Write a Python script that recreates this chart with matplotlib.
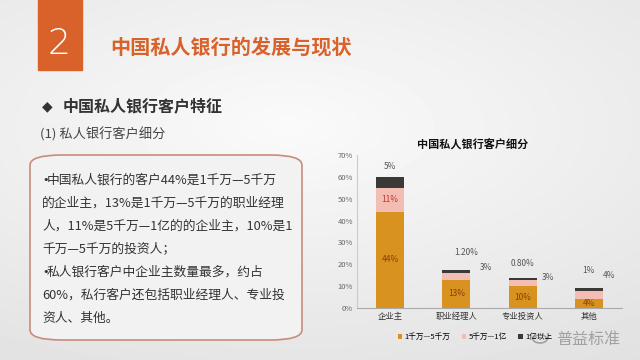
import numpy as np
import matplotlib
matplotlib.use("Agg")
import matplotlib.pyplot as plt
from matplotlib.patches import FancyBboxPatch, Rectangle

plt.rcParams['font.family'] = ['Noto Sans CJK SC', 'DejaVu Sans']

# data
categories = ['企业主', '职业经理人', '专业投资人', '其他']
series_names = ['1千万—5千万', '5千万—1亿', '1亿以上']
s1 = [44, 13, 10, 4]
s2 = [11, 3, 3, 4]
s3 = [5, 1.2, 0.8, 1]
s2_labels = ['11%', '3%', '3%', '4%']
s3_labels = ['5%', '1.20%', '0.80%', '1%']
colors = ['#D8921F', '#F3BDB3', '#3B3838']

W, H = 640, 360
fig = plt.figure(figsize=(6.4, 3.6), dpi=100)

def fx(x):
    return x / W

def fy(y):
    return 1 - y / H

# background
bg = fig.add_axes([0, 0, 1, 1])
yy, xx = np.mgrid[0:1:180j, 0:1:320j]
r = np.sqrt(((xx - 0.45) / 1.0) ** 2 + ((yy - 0.35) / 0.8) ** 2)
bg.imshow(0.98 - 0.1 * np.clip(r, 0, 1), cmap='gray', vmin=0, vmax=1,
          extent=[0, 1, 0, 1], aspect='auto')
bg.set_xlim(0, 1)
bg.set_ylim(0, 1)
bg.axis('off')

# header box
bg.add_patch(Rectangle((fx(38), fy(70)), fx(44), 70 / H, color='#D9622B'))
fig.text(fx(59), fy(44), '2', color='white', fontsize=26, ha='center', va='center',
         family='DejaVu Sans', fontweight='light')
fig.text(fx(110), fy(47), '中国私人银行的发展与现状', color='#D9622B', fontsize=14.5,
         fontweight='bold', va='center')
fig.text(fx(42), fy(106), '◆', color='#333333', fontsize=10, va='center', family='DejaVu Sans')
fig.text(fx(63), fy(106), '中国私人银行客户特征', color='#333333', fontsize=11.5,
         fontweight='bold', va='center')
fig.text(fx(40), fy(134), '(1) 私人银行客户细分', color='#444444', fontsize=9.5, va='center')

# text box
box = FancyBboxPatch((fx(30), fy(340)), fx(272), 185 / H,
                     boxstyle='round,pad=0,rounding_size=0.05',
                     mutation_aspect=H / W,
                     facecolor='#F2F2F2', edgecolor='#C98C7C', linewidth=1.2)
bg.add_patch(box)
lines = ['中国私人银行的客户44%是1千万—5千万',
         '的企业主，13%是1千万—5千万的职业经理',
         '人，11%是5千万—1亿的的企业主，10%是1',
         '千万—5千万的投资人；',
         '私人银行客户中企业主数量最多，约占',
         '60%，私行客户还包括职业经理人、专业投',
         '资人、其他。']
bullets = [0, 4]
for i, t in enumerate(lines):
    y = fy(180 + i * 23)
    if i in bullets:
        fig.text(fx(42), y, '•', color='#333333', fontsize=8, va='center',
                 family='DejaVu Sans')
        fig.text(fx(47), y, t, color='#333333', fontsize=9.2, va='center')
    else:
        fig.text(fx(42), y, t, color='#333333', fontsize=9.2, va='center')

# chart
ax = fig.add_axes([fx(357), fy(308), fx(265), 153 / H])
ax.patch.set_alpha(0)
x = np.arange(len(categories))
w = 0.42
b1 = ax.bar(x, s1, w, color=colors[0], label=series_names[0])
b2 = ax.bar(x, s2, w, bottom=s1, color=colors[1], label=series_names[1])
bottom3 = np.array(s1) + np.array(s2)
b3 = ax.bar(x, s3, w, bottom=bottom3, color=colors[2], label=series_names[2])

ax.set_ylim(0, 70)
ax.set_xlim(-0.5, 3.5)
ax.set_yticks(range(0, 71, 10))
ax.set_yticklabels([f'{v}%' for v in range(0, 71, 10)], fontsize=5.5, color='#666666')
ax.set_xticks(x)
ax.set_xticklabels(categories, fontsize=6, color='#333333')
ax.tick_params(length=0, pad=3)
for s in ['top', 'right']:
    ax.spines[s].set_visible(False)
ax.spines['left'].set_color('#CCCCCC')
ax.spines['bottom'].set_color('#AAAAAA')

# labels
for i in range(len(categories)):
    ax.text(x[i], s1[i] / 2, f'{s1[i]}%', ha='center', va='center', fontsize=6,
            color='#8B3A14')
ax.text(x[0], s1[0] + s2[0] / 2, s2_labels[0], ha='center', va='center', fontsize=6,
        color='#C0392B')
# hand-placed label offsets (pixels) as in the original slide
s3_off = [(0, 10), (10, 18), (0, 14), (0, 18)]
s2_off = [None, (30, 3), (25, 0), (20, 13)]
for i in range(len(categories)):
    top = bottom3[i] + s3[i]
    ax.annotate(s3_labels[i], (x[i], top), xytext=s3_off[i], textcoords='offset pixels',
                ha='center', va='center', fontsize=6, color='#555555')
    if s2_off[i]:
        ax.annotate(s2_labels[i], (x[i], top), xytext=s2_off[i], textcoords='offset pixels',
                    ha='center', va='center', fontsize=6, color='#555555')

fig.text(fx(473), fy(145), '中国私人银行客户细分', fontsize=8, fontweight='bold',
         ha='center', va='center', color='#111111')
fig.legend(handles=[b1, b2, b3], labels=series_names, loc='center',
           bbox_to_anchor=(fx(475), fy(337)), ncol=3, frameon=False, fontsize=5.5,
           handlelength=0.6, handleheight=0.6, columnspacing=1.5, handletextpad=0.3)

# watermark
fig.text(fx(556), fy(339), '普益标准', fontsize=11.5, color='#9A9A9A', va='center',
         alpha=0.9)
bg.add_patch(plt.Circle((fx(540), fy(339)), 0.011, transform=bg.transAxes,
                        fill=False, ec='#A0A0A0', lw=1.2))

fig.savefig('out.png', dpi=100)
